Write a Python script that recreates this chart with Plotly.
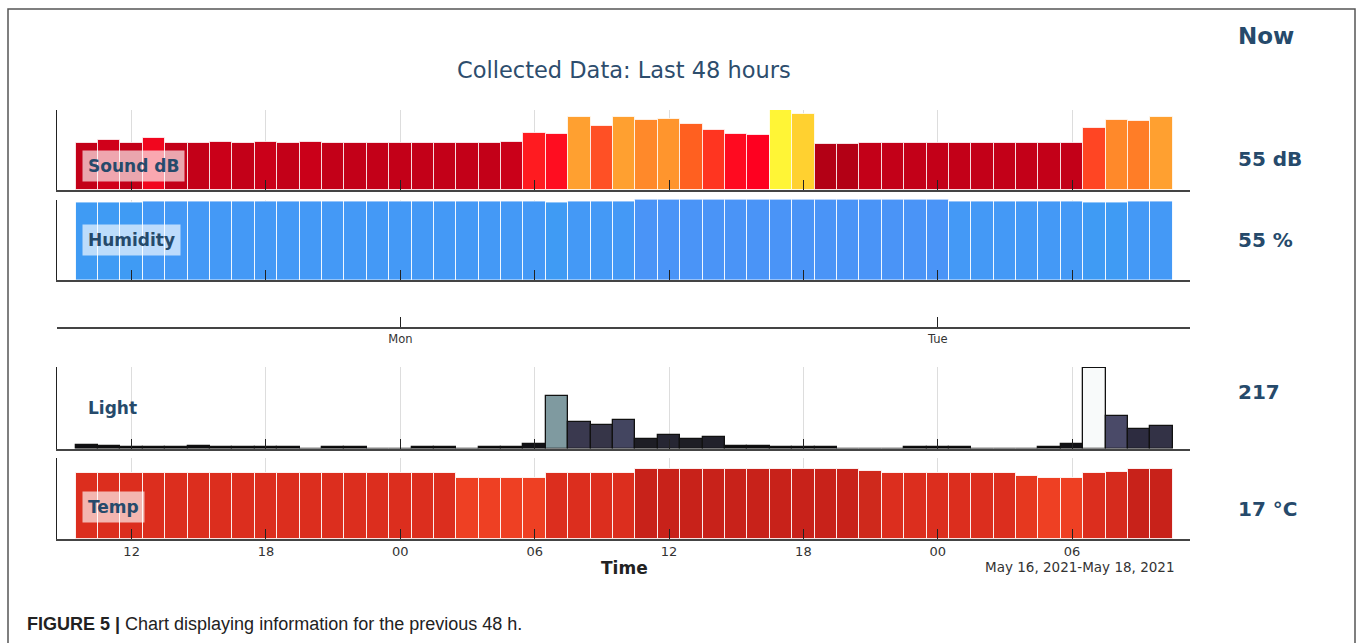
"""
Collected sensor data for the last 48 hours: four stacked hourly bar panels.
"""

import pandas as pd
import plotly.graph_objects as go

# ── Data ──────────────────────────────────────────────────────────────────────
hours = pd.date_range("2021-05-16 10:00", periods=49, freq="h")

sound_db = [
    35.6, 37.7, 35.6, 39.5, 35.6, 35.6, 36.7, 35.6, 36.7, 35.6, 36.7, 35.6,
    35.6, 35.6, 35.6, 35.6, 35.6, 35.6, 35.6, 36.7, 43.5, 42.5, 55.0, 48.4,
    55.0, 53.0, 54.0, 50.2, 45.3, 42.3, 41.5, 60.6, 57.8, 34.6, 34.6, 35.6,
    35.6, 35.6, 35.6, 35.6, 35.6, 35.6, 35.6, 35.6, 35.6, 47.1, 53.0, 52.2,
    55.0,
]

humidity = [
    54, 54, 54, 55, 55, 55, 55, 55, 55, 55, 55, 55,
    55, 55, 55, 55, 55, 55, 55, 55, 55, 54, 55, 55,
    55, 56, 56, 56, 56, 56, 56, 56, 56, 56, 56, 56,
    56, 56, 56, 55, 55, 55, 55, 55, 55, 54, 54, 55,
    55,
]

light = [
    36, 23, 10, 10, 10, 23, 10, 10, 10, 10, 0, 10,
    10, 0, 0, 10, 10, 0, 10, 10, 49, 512, 256, 227,
    275, 94, 133, 94, 110, 23, 23, 10, 10, 10, 0, 0,
    0, 10, 10, 10, 0, 0, 0, 10, 49, 787, 314, 191,
    217,
]

temp_c = [
    16.1, 16.1, 16.1, 16.1, 16.1, 16.1, 16.1, 16.1, 16.1, 16.1, 16.1, 16.1,
    16.1, 16.1, 16.1, 16.1, 16.1, 14.85, 14.85, 14.85, 14.85, 16.1, 16.1, 16.1,
    16.1, 17.0, 17.0, 17.0, 17.0, 17.0, 17.0, 17.0, 17.0, 17.0, 17.0, 16.7,
    16.1, 16.1, 16.1, 16.1, 16.1, 16.1, 15.4, 14.85, 14.85, 16.1, 16.4, 17.0,
    17.0,
]

panel_names = ["Sound dB", "Humidity", "Light", "Temp"]
now_values = ["55 dB", "55 %", "217", "17 °C"]
day_ticks = ["2021-05-17", "2021-05-18"]
day_labels = ["Mon", "Tue"]

# ── Theme ─────────────────────────────────────────────────────────────────────
W, H = 1360, 643
TEXT = "#264a6b"
FONT = "DejaVu Sans, Verdana, sans-serif"

SOUND_CS = [
    [0.00, "#b30015"], [0.04, "#c40018"], [0.12, "#d0001a"], [0.19, "#f2061e"],
    [0.27, "#ff0020"], [0.41, "#ff3520"], [0.53, "#ff5025"], [0.60, "#ff6020"],
    [0.71, "#ff8a2a"], [0.785, "#ffa030"], [0.89, "#ffd030"], [1.00, "#fff536"],
]
HUMID_CS = [[0.0, "#3f9bf4"], [0.5, "#4499f6"], [1.0, "#4a94f7"]]
LIGHT_CS = [
    [0.00, "#000000"], [0.03, "#0c0c0e"], [0.12, "#1e1e25"], [0.17, "#262633"],
    [0.24, "#2d2c40"], [0.29, "#363548"], [0.33, "#3b3a50"], [0.35, "#434560"],
    [0.40, "#4a4a68"], [0.65, "#7f9aa0"], [1.00, "#f8fafa"],
]
TEMP_CS = [
    [0.00, "#ee4023"], [0.27, "#e6381f"], [0.58, "#dc2e1e"], [0.73, "#d62b1d"],
    [0.85, "#d02a1c"], [1.00, "#c8221a"],
]


def px_x(x):
    return x / W


def px_y(y):
    return 1 - y / H


X_RANGE = ["2021-05-16 08:40", "2021-05-18 11:16"]
X_DOMAIN = [px_x(57), px_x(1190)]

# (values, colorscale, cmin, cmax, ymax, top px, bottom px, edge colour, edge width)
panels = [
    (sound_db, SOUND_CS, 34.6, 60.6, 60.6, 110, 190, "rgba(255,255,255,0.75)", 1),
    (humidity, HUMID_CS, 54, 56, 56.1, 199.5, 280, "rgba(255,255,255,0.85)", 1),
    (light, LIGHT_CS, 0, 787, 798, 367, 448.5, "#111111", 1.3),
    (temp_c, TEMP_CS, 14.85, 17.0, 19.8, 458, 538.5, "rgba(255,255,255,0.85)", 1),
]

fig = go.Figure()
layout_axes = {}

for i, (vals, cs, cmin, cmax, ymax, top, bottom, edge, ew) in enumerate(panels, start=1):
    sfx = "" if i == 1 else str(i)
    fig.add_trace(go.Bar(
        x=hours, y=vals,
        width=3600 * 1000,
        marker=dict(color=vals, colorscale=cs, cmin=cmin, cmax=cmax,
                    line=dict(color=edge, width=ew)),
        xaxis="x" + sfx, yaxis="y" + sfx,
        showlegend=False,
        hovertemplate="%{x}<br>%{y}<extra>" + panel_names[i - 1] + "</extra>",
    ))
    layout_axes["xaxis" + sfx] = dict(
        type="date", range=X_RANGE, domain=X_DOMAIN, anchor="y" + sfx,
        showgrid=True, gridcolor="#dddddd", gridwidth=1,
        showline=True, linecolor="#444444", linewidth=1.6,
        ticks="inside", ticklen=10, tickwidth=1.4, tickcolor="#222222",
        tick0="2021-05-16", dtick=6 * 3600 * 1000, tickformat="%H",
        showticklabels=(i == 4), zeroline=False,
        tickfont=dict(family=FONT, size=13, color="#333333"),
    )
    layout_axes["yaxis" + sfx] = dict(
        domain=[px_y(bottom), px_y(top)], range=[0, ymax], anchor="x" + sfx,
        showline=True, linecolor="#222222", linewidth=1.2,
        showgrid=False, showticklabels=False, ticks="", zeroline=False,
    )

# day axis (Mon / Tue) between the two groups
fig.add_trace(go.Scatter(x=[], y=[], xaxis="x5", yaxis="y5", showlegend=False))
layout_axes["xaxis5"] = dict(
    type="date", range=X_RANGE, domain=X_DOMAIN, anchor="y5",
    showgrid=False, showline=True, linecolor="#444444", linewidth=1.6,
    ticks="inside", ticklen=10, tickwidth=1.2, tickcolor="#222222",
    tickvals=day_ticks, ticktext=day_labels,
    tickfont=dict(family=FONT, size=11.5, color="#333333"),
)
layout_axes["yaxis5"] = dict(
    domain=[px_y(327), px_y(317)], range=[0, 1], anchor="x5",
    visible=False,
)

annotations = [
    dict(x=px_x(624), y=px_y(70), text="Collected Data: Last 48 hours",
         font=dict(family=FONT, size=22.5, color="#2d4d6d")),
    dict(x=px_x(1236), y=px_y(36), text="<b>Now</b>", xanchor="left",
         font=dict(family=FONT, size=23, color=TEXT)),
    dict(x=px_x(624), y=px_y(568), text="<b>Time</b>",
         font=dict(family=FONT, size=17, color="#222222")),
    dict(x=px_x(1177), y=px_y(567), text="May 16, 2021-May 18, 2021", xanchor="right",
         font=dict(family=FONT, size=13.5, color="#333333")),
    dict(x=px_x(25), y=px_y(624), xanchor="left",
         text="<b>FIGURE 5 |</b> Chart displaying information for the previous 48 h.",
         font=dict(family="Liberation Sans Narrow, Liberation Sans, Arial", size=18,
                   color="#222222")),
]

# panel labels and current values
label_pos = [(82, 166, True), (82, 240, True), (82, 408, False), (82, 507, True)]
now_pos = [159, 240, 392, 509]
for name, (lx, ly, boxed), val, vy in zip(panel_names, label_pos, now_values, now_pos):
    annotations.append(dict(
        x=px_x(lx), y=px_y(ly), text="<b>" + name + "</b>", xanchor="left",
        font=dict(family=FONT, size=17, color=TEXT),
        bgcolor="rgba(255,255,255,0.65)" if boxed else None, borderpad=5,
    ))
    annotations.append(dict(
        x=px_x(1236), y=px_y(vy), text="<b>" + val + "</b>", xanchor="left",
        font=dict(family=FONT, size=20, color=TEXT),
    ))

for a in annotations:
    a.setdefault("xref", "paper")
    a.setdefault("yref", "paper")
    a.setdefault("yanchor", "middle")
    a.setdefault("showarrow", False)

# outer frame of the figure box
shapes = [dict(
    type="rect", xref="paper", yref="paper",
    x0=px_x(8), x1=px_x(1355), y0=px_y(660), y1=px_y(9),
    line=dict(color="#555555", width=1.5), fillcolor="rgba(0,0,0,0)",
)]

fig.update_layout(
    width=W, height=H,
    margin=dict(l=0, r=0, t=0, b=0),
    paper_bgcolor="white", plot_bgcolor="white",
    font=dict(family=FONT, color="#333333"),
    annotations=annotations,
    shapes=shapes,
    bargap=0,
    **layout_axes,
)

fig.write_html(
    "out.html",
    config={"displayModeBar": False},
    post_script="document.body.style.margin='0px';",
)
